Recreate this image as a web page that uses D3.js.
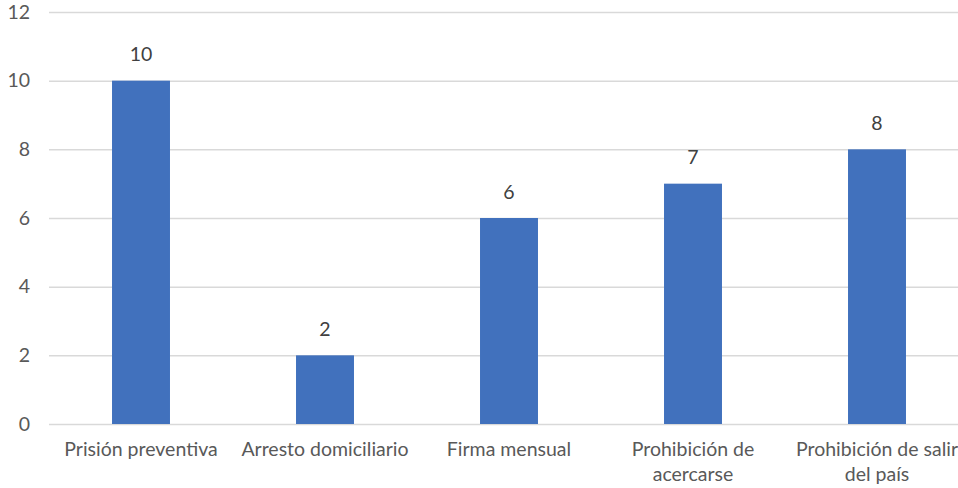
<!DOCTYPE html>
<html>
<head>
<meta charset="utf-8">
<script src="https://cdn.jsdelivr.net/npm/d3@7"></script>
<style>
  html, body { margin: 0; padding: 0; background: #fff; }
  svg { display: block; }
  text { font-family: Lato, "Open Sans", sans-serif; }
</style>
</head>
<body>
<div id="chart"></div>
<script>
// Medidas cautelares aplicadas
const categories = [
  ["Prisión preventiva"],
  ["Arresto domiciliario"],
  ["Firma mensual"],
  ["Prohibición de", "acercarse"],
  ["Prohibición de salir", "del país"]
];
const values = [10, 2, 6, 7, 8];
const yTicks = [0, 2, 4, 6, 8, 10, 12];

const width = 958, height = 488;
const fontSize = 19.5;
const svg = d3.select("#chart").append("svg")
  .attr("width", width).attr("height", height);

const x = d3.scaleBand()
  .domain(d3.range(categories.length))
  .range([49, 969])
  .paddingInner(0.685)
  .paddingOuter(0.3425);

const y = d3.scaleLinear().domain([0, 12]).range([424, 12]);

// horizontal gridlines
svg.append("g").selectAll("line")
  .data(yTicks)
  .join("line")
  .attr("x1", 49).attr("x2", 969)
  .attr("y1", d => y(d) + 0.5).attr("y2", d => y(d) + 0.5)
  .attr("stroke", "#d9d9d9").attr("stroke-width", 1.5);

// y tick labels
svg.append("g").selectAll("text")
  .data(yTicks)
  .join("text")
  .attr("x", 30).attr("y", d => y(d))
  .attr("dy", "0.35em")
  .attr("text-anchor", "end")
  .attr("font-size", fontSize)
  .attr("fill", "#595959")
  .text(d => d);

// bars
svg.append("g").selectAll("rect")
  .data(values)
  .join("rect")
  .attr("x", (d, i) => x(i))
  .attr("width", x.bandwidth())
  .attr("y", d => y(d))
  .attr("height", d => y(0) - y(d))
  .attr("fill", "#4171bd");

// value labels
svg.append("g").selectAll("text")
  .data(values)
  .join("text")
  .attr("x", (d, i) => x(i) + x.bandwidth() / 2)
  .attr("y", d => y(d) - 26)
  .attr("dy", "0.35em")
  .attr("text-anchor", "middle")
  .attr("font-size", fontSize)
  .attr("fill", "#404040")
  .text(d => d);

// category labels
const cat = svg.append("g").selectAll("text")
  .data(categories)
  .join("text")
  .attr("x", (d, i) => x(i) + x.bandwidth() / 2)
  .attr("y", 449)
  .attr("text-anchor", "middle")
  .attr("font-size", fontSize)
  .attr("fill", "#595959");
cat.selectAll("tspan")
  .data(d => d)
  .join("tspan")
  .attr("x", function () { return d3.select(this.parentNode).attr("x"); })
  .attr("dy", (d, j) => j === 0 ? "0.35em" : "1.3em")
  .text(d => d);
</script>
</body>
</html>
